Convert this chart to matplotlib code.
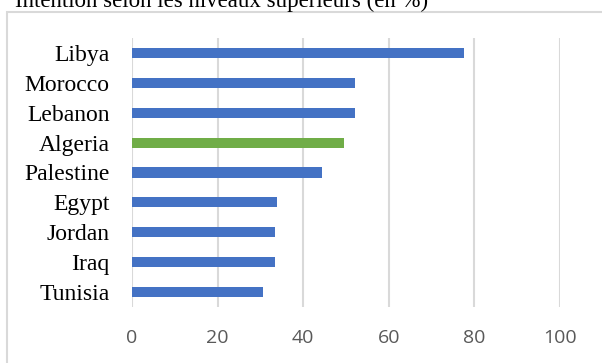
import matplotlib.pyplot as plt
from matplotlib.patches import Rectangle

countries = ["Libya", "Morocco", "Lebanon", "Algeria", "Palestine",
             "Egypt", "Jordan", "Iraq", "Tunisia"]
values = [77.6, 52.0, 52.0, 49.5, 44.5, 33.8, 33.3, 33.3, 30.5]
highlight = "Algeria"
xticks = [0, 20, 40, 60, 80, 100]

W, H = 602, 363
fig = plt.figure(figsize=(W / 100, H / 100), dpi=100)

# chart frame (runs off the right and bottom edges)
fig.patches.append(Rectangle((7 / W, -0.1), 1.0, 1 - 11.5 / H + 0.1,
                             transform=fig.transFigure, fill=False,
                             edgecolor="#d9d9d9", linewidth=1.5))

fig.text(15 / W, 1 - 7 / H, "Intention selon les niveaux supérieurs (en %)",
         family="Liberation Serif", fontsize=16.5, color="black", va="baseline")

ax = fig.add_axes([132 / W, 1 - 307 / H, (560 - 132) / W, (307 - 38) / H])

ypos = list(range(len(countries)))
colors = ["#70AD47" if c == highlight else "#4472C4" for c in countries]
ax.barh(ypos, values, height=0.34, color=colors, zorder=3)

ax.set_ylim(len(countries) - 0.5, -0.5)
ax.set_xlim(0, 100)
ax.set_xticks(xticks)
ax.set_xticklabels([str(t) for t in xticks], family="Open Sans",
                   fontsize=14, color="#595959")
ax.set_yticks(ypos)
ax.set_yticklabels(countries, family="Liberation Serif", fontsize=17,
                   color="black")
ax.tick_params(axis="both", length=0)
ax.tick_params(axis="x", pad=16)
ax.tick_params(axis="y", pad=16)
ax.grid(axis="x", color="#d9d9d9", linewidth=1.5, zorder=0)
for s in ax.spines.values():
    s.set_visible(False)

fig.savefig("out.png", dpi=100)
